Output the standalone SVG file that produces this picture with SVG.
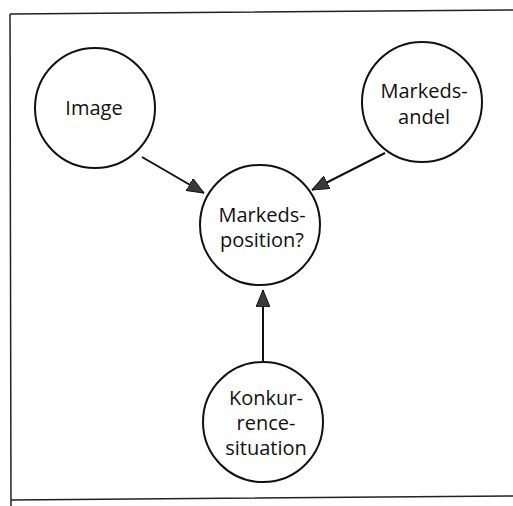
<svg xmlns="http://www.w3.org/2000/svg" width="513" height="506" viewBox="0 0 513 506">
<defs>
<marker id="ah" viewBox="0 0 17 14" refX="17" refY="7" markerWidth="17" markerHeight="14" markerUnits="userSpaceOnUse" orient="auto">
<path d="M0,0 L17,7 L0,14 Z" fill="#3a3a3a" stroke="#111" stroke-width="1"/>
</marker>
</defs>
<style>
.node circle{fill:#fff;stroke:#111;stroke-width:2}
.node text{font-family:"Open Sans","Noto Sans",sans-serif;font-size:20px;fill:#111;text-anchor:middle}
.edge{stroke:#111;stroke-width:2;fill:none;marker-end:url(#ah)}
</style>
<rect width="513" height="506" fill="#fff"/>
<path d="M10,14 L513,10 M10,14 L11,506 M11,500 L513,496" stroke="#222" stroke-width="1.5" fill="none"/>
<g id="connectors">
<line class="edge" x1="142" y1="157" x2="204" y2="193"/>
<line class="edge" x1="385" y1="153" x2="312" y2="190"/>
<line class="edge" x1="263" y1="362" x2="263" y2="290"/>
</g>
<g id="image" class="node">
<circle cx="95" cy="108" r="60"/>
<text x="94" y="115">Image</text>
</g>
<g id="markedsandel" class="node">
<circle cx="422" cy="102" r="60"/>
<text x="424" y="98">Markeds-</text>
<text x="424" y="124">andel</text>
</g>
<g id="markedsposition" class="node">
<circle cx="260" cy="225" r="60"/>
<text x="262" y="222">Markeds-</text>
<text x="262" y="247">position?</text>
</g>
<g id="konkurrence" class="node">
<circle cx="263" cy="422" r="60"/>
<text x="266" y="405">Konkur-</text>
<text x="266" y="430">rence-</text>
<text x="266" y="455">situation</text>
</g>
</svg>
